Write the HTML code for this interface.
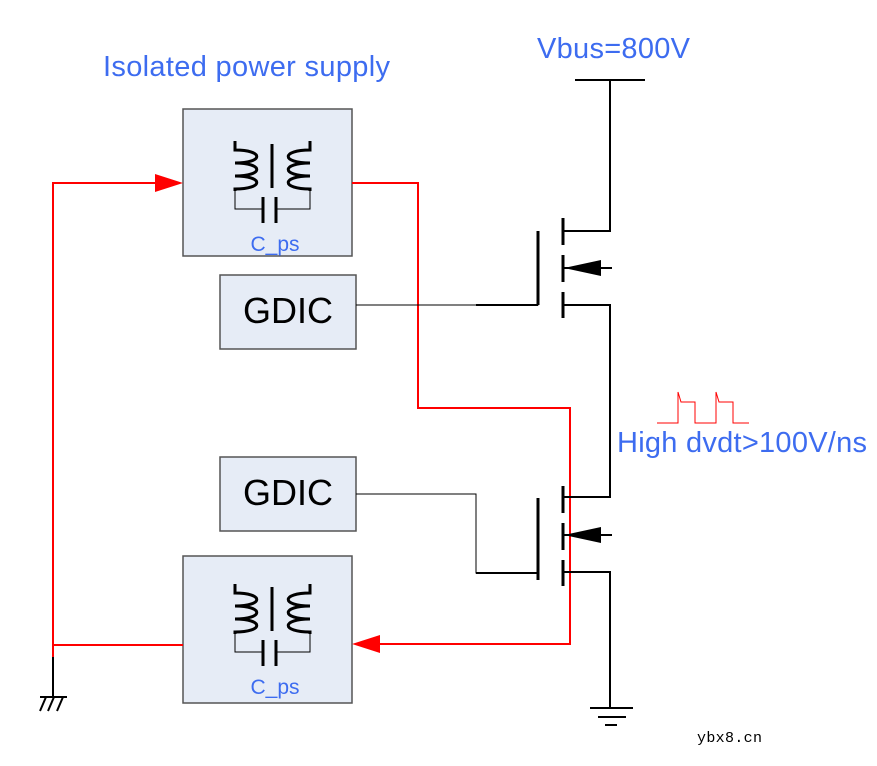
<!DOCTYPE html>
<html><head><style>body{margin:0;background:#fff}svg{display:block}</style></head><body>
<svg width="877" height="766" xmlns="http://www.w3.org/2000/svg" font-family="Liberation Sans, sans-serif">
<defs>
<g id="xf">
<path d="M235,141 v9 c29,0 29,13 0,13 c29,0 29,13 0,13 c29,0 29,13 0,13 v2" fill="none" stroke="#000" stroke-width="3"/>
<path d="M310,141 v9 c-29,0 -29,13 0,13 c-29,0 -29,13 0,13 c-29,0 -29,13 0,13 v2" fill="none" stroke="#000" stroke-width="3"/>
<line x1="272" y1="144" x2="272" y2="188" stroke="#000" stroke-width="3"/>
<path d="M235,190 v19 h28 M276,209 h34 v-19" fill="none" stroke="#000" stroke-width="1"/>
<line x1="263" y1="197" x2="263" y2="223" stroke="#000" stroke-width="3"/>
<line x1="276" y1="197" x2="276" y2="223" stroke="#000" stroke-width="3"/>
</g>
</defs>
<text x="103" y="76" font-size="29" fill="#3d6cf0" textLength="287">Isolated power supply</text>
<text x="537" y="58" font-size="29" fill="#3d6cf0" textLength="153">Vbus=800V</text>
<text x="617" y="452" font-size="29" fill="#3d6cf0" textLength="250">High dvdt&gt;100V/ns</text>
<text x="697" y="742" font-size="15" font-family="Liberation Mono, monospace" fill="#000" textLength="65">ybx8.cn</text>
<rect x="183" y="109" width="169" height="147" fill="#e6ecf6" stroke="#555" stroke-width="1.5"/>
<rect x="183" y="556" width="169" height="147" fill="#e6ecf6" stroke="#555" stroke-width="1.5"/>
<rect x="220" y="275" width="136" height="74" fill="#e6ecf6" stroke="#555" stroke-width="1.5"/>
<rect x="220" y="457" width="136" height="74" fill="#e6ecf6" stroke="#555" stroke-width="1.5"/>
<text x="288" y="323" font-size="36" text-anchor="middle">GDIC</text>
<text x="288" y="505" font-size="36" text-anchor="middle">GDIC</text>
<use href="#xf"/>
<use href="#xf" transform="translate(0,443)"/>
<text x="275" y="251" font-size="21" fill="#3d6cf0" text-anchor="middle">C_ps</text>
<text x="275" y="694" font-size="21" fill="#3d6cf0" text-anchor="middle">C_ps</text>
<path d="M53,657 V183 H160 M352,183 H418 V408 H570 V644 H380 M53,645 H183" fill="none" stroke="#f00" stroke-width="2"/>
<polygon points="183,183 155,174 155,192" fill="#f00"/>
<polygon points="352,644 380,635 380,653" fill="#f00"/>
<path d="M53,657 V697 M40,697 H67 M40,711 L46,697 M48,711 L54,697 M57,711 L63,697" fill="none" stroke="#000" stroke-width="2"/>
<path d="M356,305 H538 V231" fill="none" stroke="#000" stroke-width="1"/>
<line x1="476" y1="305" x2="538" y2="305" stroke="#000" stroke-width="2"/>
<line x1="538" y1="231" x2="538" y2="305" stroke="#000" stroke-width="3"/>
<path d="M356,494 H476 V573 H538" fill="none" stroke="#000" stroke-width="1"/>
<line x1="476" y1="573" x2="538" y2="573" stroke="#000" stroke-width="2"/>
<line x1="538" y1="498" x2="538" y2="580" stroke="#000" stroke-width="3"/>
<g stroke="#000" stroke-width="3"><line x1="563" y1="218" x2="563" y2="245"/><line x1="563" y1="255" x2="563" y2="282"/><line x1="563" y1="292" x2="563" y2="318"/>
<line x1="563" y1="486" x2="563" y2="513"/><line x1="563" y1="523" x2="563" y2="550"/><line x1="563" y1="560" x2="563" y2="586"/></g>
<path d="M575,80 H645 M610,80 V231 H563 M563,268 H612 M563,305 H610 V497 H563 M563,535 H612 M563,572 H610 V708 M590,708 H633 M598,717 H626 M605,725 H617" fill="none" stroke="#000" stroke-width="2"/>
<polygon points="564,268 601,260 601,276" fill="#000"/>
<polygon points="564,535 601,527 601,543" fill="#000"/>
<path d="M657,423 H678 V392 L681,402 H695 V423 H716 V392 L719,402 H733 V423 H749" fill="none" stroke="#f00" stroke-width="1"/>
</svg>
</body></html>
